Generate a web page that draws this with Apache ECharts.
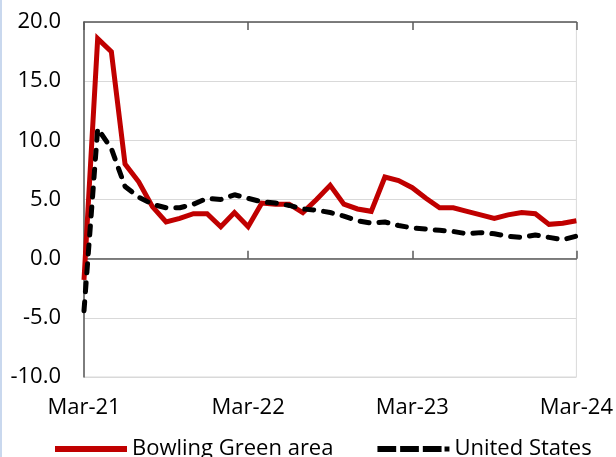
<!DOCTYPE html>
<html>
<head>
<meta charset="utf-8">
<script src="https://cdn.jsdelivr.net/npm/echarts@6/dist/echarts.min.js"></script>
<style>html,body{margin:0;padding:0;background:#fff}#c{width:616px;height:457px}</style>
</head>
<body>
<div id="c"></div>
<script>
var monthNames = ['Jan','Feb','Mar','Apr','May','Jun','Jul','Aug','Sep','Oct','Nov','Dec'];
var startMonth = 2, startYear = 21, monthCount = 37;
var categories = [];
for (var k = 0; k < monthCount; k++) {
  var m = (startMonth + k) % 12, y = startYear + Math.floor((startMonth + k) / 12);
  categories.push(monthNames[m] + '-' + y);
}
var bowlingGreen = [-1.8, 18.6, 17.5, 8.0, 6.5, 4.4, 3.1, 3.4, 3.8, 3.8, 2.7, 3.9, 2.7,
  4.7, 4.6, 4.6, 3.9, 5.0, 6.2, 4.6, 4.2, 4.0, 6.9, 6.6, 6.0, 5.1, 4.3, 4.3, 4.0,
  3.7, 3.4, 3.7, 3.9, 3.8, 2.9, 3.0, 3.2];
var unitedStates = [-4.4, 11.0, 9.3, 6.1, 5.2, 4.6, 4.3, 4.3, 4.6, 5.1, 5.0, 5.4, 5.1,
  4.8, 4.7, 4.5, 4.2, 4.1, 3.9, 3.6, 3.2, 3.0, 3.1, 2.8, 2.6, 2.5, 2.4, 2.3, 2.1,
  2.2, 2.1, 1.9, 1.8, 2.0, 1.8, 1.6, 1.9];
var seriesNames = ['Bowling Green area', 'United States'];

var font = 'Open Sans';
var fs = 22;
var chart = echarts.init(document.getElementById('c'), null, {renderer: 'canvas'});
var zeroAxisBase = {
  type: 'category', data: categories, boundaryGap: false,
  axisLine: {show: true, onZero: true, lineStyle: {color: '#595959', width: 1.5}},
  axisLabel: {show: false}, splitLine: {show: false}
};
chart.setOption({
  animation: false,
  textStyle: {fontFamily: font},
  graphic: [{type: 'rect', left: 0, top: 0, shape: {width: 2, height: 457}, style: {fill: '#c9d8ee'}}],
  grid: {left: 84, right: 38, top: 22, bottom: 80, show: true, borderColor: '#d9d9d9', borderWidth: 1},
  legend: {
    data: [
      {name: seriesNames[0], icon: 'path://M0,0h72v6h-72z', itemStyle: {color: '#c00000'}},
      {name: seriesNames[1], icon: 'path://M0,0h19v6h-19z M23,0h19v6h-19z M46,0h19v6h-19z M68,0.5h5v5h-5z', itemStyle: {color: '#000'}}
    ],
    left: 50, top: 433, itemWidth: 72, itemHeight: 6, itemGap: 44,
    textStyle: {fontFamily: font, fontSize: fs, color: '#000'}
  },
  xAxis: [
    {
      type: 'category', data: categories, boundaryGap: false, position: 'bottom',
      axisLine: {show: false, onZero: false}, axisTick: {show: false},
      axisLabel: {interval: 11, fontSize: fs, color: '#000', fontFamily: font, margin: 20},
      splitLine: {show: false}
    },
    Object.assign({}, zeroAxisBase, {axisTick: {show: true, interval: 11, length: 8, inside: false, lineStyle: {color: '#595959', width: 1.5}}}),
    Object.assign({}, zeroAxisBase, {axisTick: {show: true, interval: 11, length: 8, inside: true, lineStyle: {color: '#595959', width: 1.5}}})
  ],
  yAxis: {
    type: 'value', min: -10, max: 20, interval: 5,
    axisLine: {show: true, lineStyle: {color: '#595959', width: 1.5}},
    axisTick: {show: false},
    axisLabel: {fontSize: fs, color: '#000', fontFamily: font, margin: 23,
      formatter: function (v) { return v.toFixed(1); }},
    splitLine: {show: true, lineStyle: {color: '#d9d9d9', width: 1}}
  },
  series: [
    {
      name: seriesNames[0], type: 'line', data: bowlingGreen, xAxisIndex: 0,
      symbol: 'none', z: 3,
      lineStyle: {color: '#c00000', width: 5, join: 'miter'},
      itemStyle: {color: '#c00000'}
    },
    {
      name: seriesNames[1], type: 'line', data: unitedStates, xAxisIndex: 0,
      symbol: 'none', z: 4,
      lineStyle: {color: '#000', width: 5, type: [9, 10], cap: 'round'},
      itemStyle: {color: '#000'}
    }
  ]
});
</script>
</body>
</html>
